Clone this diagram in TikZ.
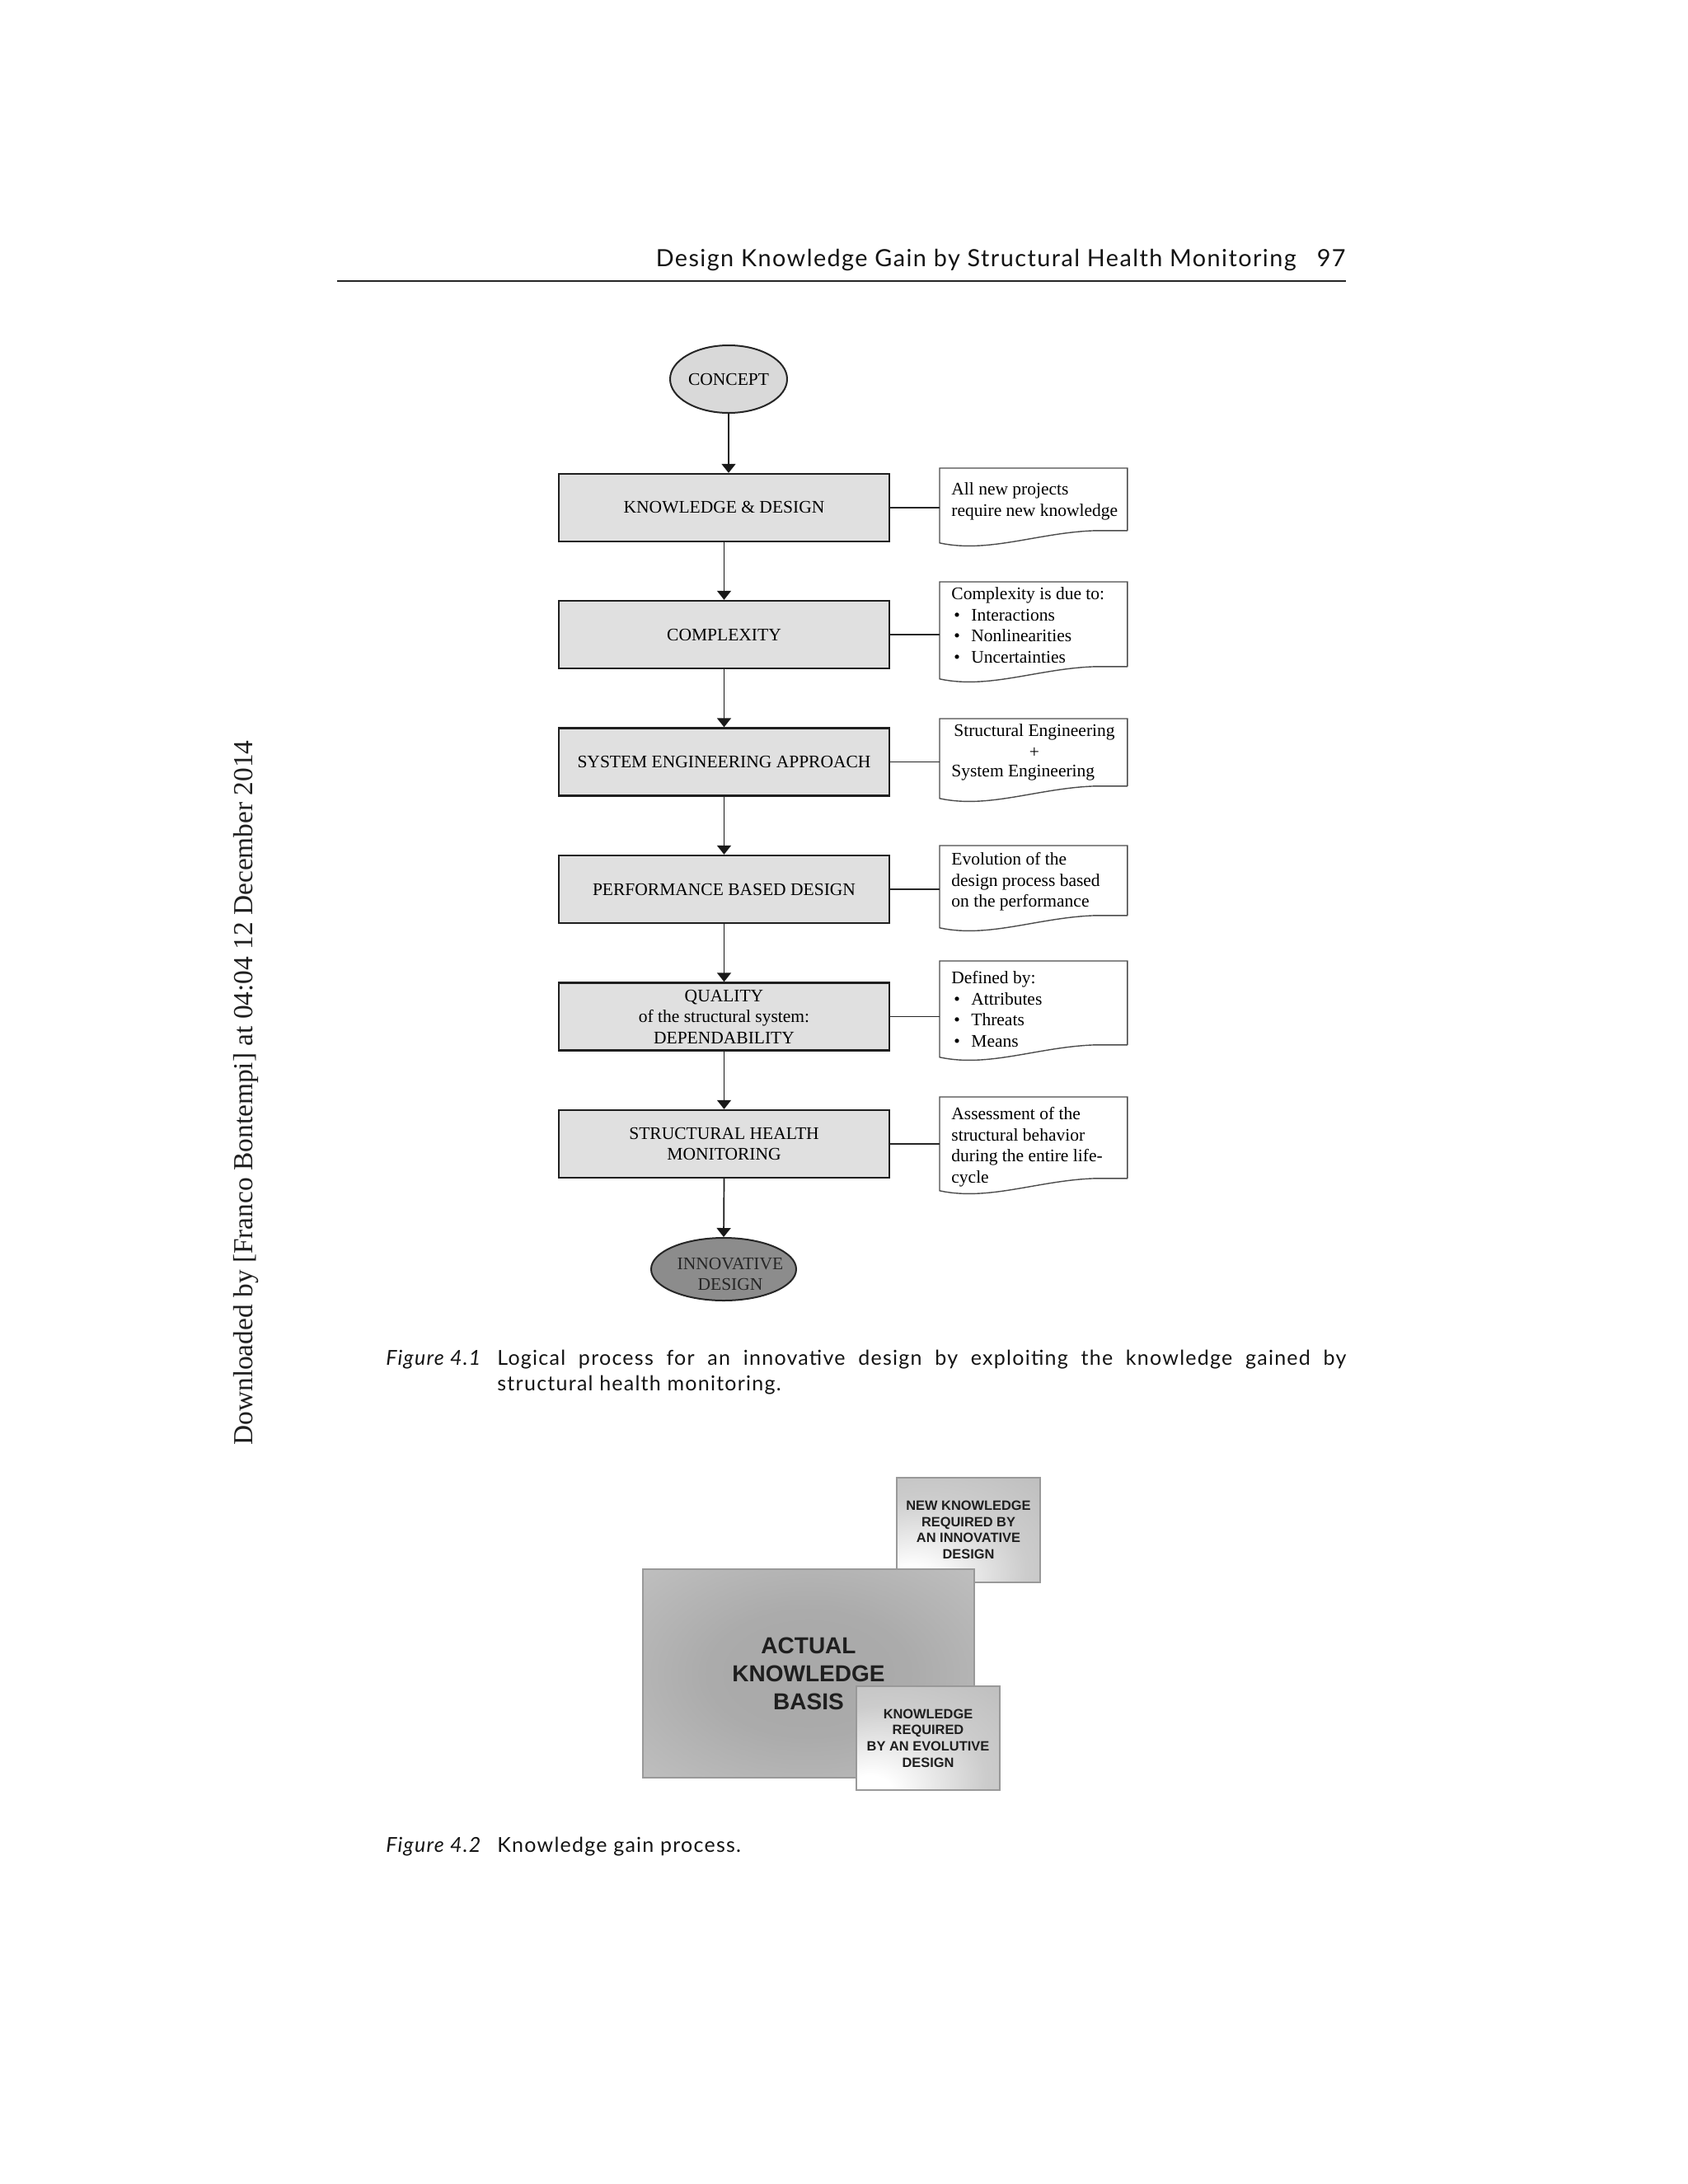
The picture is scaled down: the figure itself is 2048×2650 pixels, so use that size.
\documentclass[tikz,border=0pt]{standalone}
\usepackage{fontspec}
\setmainfont{Liberation Serif}
\newfontfamily\gill[LetterSpace=5]{Lato}
\newfontfamily\helv{Liberation Sans}
\usetikzlibrary{shapes.geometric,arrows.meta,calc}
\pgfdeclareradialshading{lightspot}{\pgfpoint{-22bp}{-28bp}}{color(0bp)=(white); color(8bp)=(white); color(35bp)=(black!20); color(60bp)=(black!27); color(110bp)=(black!30)}
\pgfdeclareradialshading{darkmid}{\pgfpoint{0bp}{0bp}}{color(0bp)=(black!34); color(15bp)=(black!33); color(36bp)=(black!25); color(50bp)=(black!22); color(80bp)=(black!21)}
\newcommand\wavenote[1]{%
  \draw[noteline] (#1.south east) -- (#1.north east) -- (#1.north west) -- ($(#1.south west)+(0,15)$) .. controls ($(#1.south west)+(60,28)$) and ($(#1.south west)+(120,2)$) .. ($(#1.south west)+(190,0)$) -- (#1.south east);}
\newcommand\bul{\makebox[12pt][l]{\hspace{1.5pt}\textbullet}}
\begin{document}
\begin{tikzpicture}[x=0.5pt,y=-0.5pt,
  box/.style={rectangle, draw=black!88, line width=1.2pt, fill=black!12, minimum width=200.5pt, minimum height=41pt, inner sep=0pt, align=center, font=\fontsize{10.75pt}{12.8pt}\selectfont},
  arr/.style={draw=black!90, line width=0.85pt, -{Triangle[width=8.5pt,length=5.5pt]}},
  link/.style={draw=black!85, line width=0.85pt},
  notebox/.style={rectangle, inner sep=0pt, minimum width=113.5pt, anchor=north west},
  noteline/.style={draw=black!70, line width=0.7pt},
  notetext/.style={anchor=north west, inner sep=0pt, align=left, font=\fontsize{10.75pt}{12.85pt}\selectfont},
  kbox/.style={rectangle, draw=black!40, line width=0.8pt, inner sep=0pt, align=center, font=\helv\bfseries\fontsize{8.2pt}{9.8pt}\selectfont, text=black!88},
  gilltext/.style={inner sep=0pt, anchor=base west, font=\gill\fontsize{12.5pt}{15pt}\selectfont, text=black!92},
]
\useasboundingbox (0,0) rectangle (2048,2650);
\fill[white] (0,0) rectangle (2048,2650);

% running head
\node[anchor=base east, inner sep=0pt, font=\gill\fontsize{14.4pt}{16pt}\selectfont, text=black!92] (hdr) at (1573,323) {Design Knowledge Gain by Structural Health Monitoring};
\node[anchor=base east, inner sep=0pt, font=\gill\fontsize{14.4pt}{16pt}\selectfont, text=black!92] (pgno) at (1633,323) {97};
\coordinate (ruleL) at (409,341);
\coordinate (ruleR) at (1633,341);
\draw[line width=1pt, black!85] (ruleL) -- (ruleR);

% side note
\node[rotate=90, anchor=base west, inner sep=0pt, font=\fontsize{16.7pt}{18pt}\selectfont, text=black!88] (side) at (306,1754) {Downloaded by [Franco Bontempi] at 04:04 12 December 2014};

% flowchart
\node[ellipse, draw=black!85, line width=1pt, fill=black!15, minimum width=71pt, minimum height=41pt, inner sep=0pt, font=\fontsize{10.75pt}{12.8pt}\selectfont] (concept) at (884,460) {CONCEPT};

\node[box] (kd) at (878.5,616) {KNOWLEDGE \& DESIGN};
\node[box] (cx) at (878.5,770) {COMPLEXITY};
\node[box] (sea) at (878.5,924.5) {SYSTEM ENGINEERING APPROACH};
\node[box] (pbd) at (878.5,1079) {PERFORMANCE BASED DESIGN};
\node[box] (qual) at (878.5,1233.5) {QUALITY\\of the structural system:\\DEPENDABILITY};
\node[box] (shm) at (878.5,1388) {STRUCTURAL HEALTH\\MONITORING};

\node[ellipse, draw=black!85, line width=1pt, fill=black!45, minimum width=88pt, minimum height=38pt, inner sep=0pt] (innov) at (878,1540) {};
\node[inner sep=0pt, align=center, text=black!85, font=\fontsize{10.75pt}{12.8pt}\selectfont] (innovlabel) at (886,1546) {INNOVATIVE\\DESIGN};

\draw[arr] (concept.south) -- (concept.south |- kd.north);
\draw[arr] (kd.south) -- (cx.north);
\draw[arr] (cx.south) -- (sea.north);
\draw[arr] (sea.south) -- (pbd.north);
\draw[arr] (pbd.south) -- (qual.north);
\draw[arr] (qual.south) -- (shm.north);
\draw[arr] (shm.south) -- (innov.north);

% notes
\node[notebox, minimum height=37.5pt] (n1) at (1140,568) {};
\node[notebox, minimum height=51pt] (n2) at (1140,706) {};
\node[notebox, minimum height=40.5pt] (n3) at (1140,872) {};
\node[notebox, minimum height=42pt] (n4) at (1140,1026) {};
\node[notebox, minimum height=50.5pt] (n5) at (1140,1166) {};
\node[notebox, minimum height=49pt] (n6) at (1140,1331) {};
\wavenote{n1}
\wavenote{n2}
\wavenote{n3}
\wavenote{n4}
\wavenote{n5}
\wavenote{n6}

\node[notetext] (n1t) at (1154,582) {\strut All new projects\\require new knowledge};
\node[notetext] (n2t) at (1154,709) {\strut Complexity is due to:\\\bul Interactions\\\bul Nonlinearities\\\bul Uncertainties};
\node[notetext, anchor=north, align=center] (n3t) at (1255,875) {\strut Structural Engineering\\+};
\node[notetext, anchor=base west] (n3b) at (1154,942) {System Engineering};
\node[notetext] (n4t) at (1154,1031) {\strut Evolution of the\\design process based\\on the performance};
\node[notetext] (n5t) at (1154,1175) {\strut Defined by:\\\bul Attributes\\\bul Threats\\\bul Means};
\node[notetext] (n6t) at (1154,1340) {\strut Assessment of the\\structural behavior\\during the entire life-\\cycle};

\draw[link] (kd.east) -- (kd.east -| n1.west);
\draw[link] (cx.east) -- (cx.east -| n2.west);
\draw[link] (sea.east) -- (sea.east -| n3.west);
\draw[link] (pbd.east) -- (pbd.east -| n4.west);
\draw[link] (qual.east) -- (qual.east -| n5.west);
\draw[link] (shm.east) -- (shm.east -| n6.west);

% caption 4.1
\node[gilltext, font=\gill\itshape\fontsize{12.5pt}{15pt}\selectfont] (fig1) at (468,1656) {Figure 4.1};
\node[gilltext] (cap1a) at (603,1656) {\makebox[515pt][s]{Logical process for an innovative design by exploiting the knowledge gained by}};
\node[gilltext] (cap1b) at (603,1687) {structural health monitoring.};

% figure 4.2
\node[kbox, shade, shading=lightspot, minimum width=87pt, minimum height=63.5pt] (newk) at (1175,1856.5) {NEW KNOWLEDGE\\REQUIRED BY\\AN INNOVATIVE\\DESIGN};
\node[kbox, shade, shading=darkmid, minimum width=201pt, minimum height=126.5pt, font=\helv\bfseries\fontsize{14pt}{17pt}\selectfont] (akb) at (981,2030.5) {ACTUAL\\KNOWLEDGE\\BASIS};
\node[kbox, shade, shading=lightspot, minimum width=87pt, minimum height=63pt] (evk) at (1126,2109) {KNOWLEDGE\\REQUIRED\\BY AN EVOLUTIVE\\DESIGN};

% caption 4.2
\node[gilltext, font=\gill\itshape\fontsize{12.5pt}{15pt}\selectfont] (fig2) at (468,2247) {Figure 4.2};
\node[gilltext] (cap2) at (603,2247) {Knowledge gain process.};
\end{tikzpicture}
\end{document}
